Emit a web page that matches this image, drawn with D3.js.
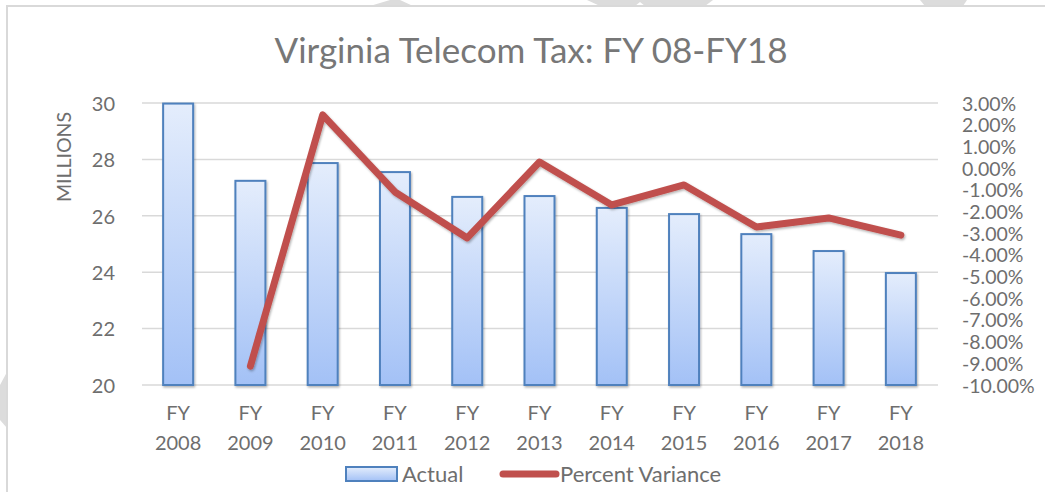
<!DOCTYPE html>
<html lang="en">
<head>
    <meta charset="UTF-8">
    <title>Virginia Telecom Tax</title>
    <script src="https://d3js.org/d3.v7.min.js"></script>
    <style>
        body { margin: 0; background: #fff; }
        text { font-family: Lato, "Open Sans", sans-serif; }
    </style>
</head>
<body>
    <svg></svg>

    <script>
        const w = 1045;
        const h = 492;

        const years = ["2008", "2009", "2010", "2011", "2012", "2013", "2014", "2015", "2016", "2017", "2018"];
        const actual = [29.98, 27.24, 27.87, 27.55, 26.67, 26.70, 26.28, 26.06, 25.35, 24.75, 23.97];
        const variance = [null, -9.13, 2.45, -1.10, -3.22, 0.28, -1.70, -0.78, -2.72, -2.30, -3.09];
        const leftTicks = [20, 22, 24, 26, 28, 30];
        const rightTicks = [3, 2, 1, 0, -1, -2, -3, -4, -5, -6, -7, -8, -9, -10];

        const svg = d3.select("svg").attr("width", w).attr("height", h);
        const defs = svg.append("defs");

        const grad = defs.append("linearGradient")
            .attr("id", "barFill")
            .attr("x1", 0).attr("y1", 0).attr("x2", 0).attr("y2", 1);
        grad.append("stop").attr("offset", "0%").attr("stop-color", "#e4edfc");
        grad.append("stop").attr("offset", "100%").attr("stop-color", "#a3c1f6");

        const shadow = defs.append("filter").attr("id", "shadow")
            .attr("x", "-20%").attr("y", "-20%").attr("width", "140%").attr("height", "140%");
        shadow.append("feDropShadow")
            .attr("dx", 1).attr("dy", 1.5).attr("stdDeviation", 1.2)
            .attr("flood-color", "#000").attr("flood-opacity", 0.3);

        // faint watermark bits and the chart frame along the edges
        const marks = svg.append("g").attr("fill", "#dcdcdc");
        [
            [[390, 0], [400, 0], [413, 6], [370, 6]],
            [[587, 0], [713, 0], [705, 6], [645, 6], [640, 2], [635, 6], [600, 6]],
            [[920, 0], [967, 0], [963, 6], [925, 6]],
            [[0, 385], [7, 372], [7, 428], [0, 420]]
        ].forEach(p => marks.append("polygon").attr("points", p.join(" ")));

        svg.append("path")
            .attr("d", `M${w},6H7V${h}`)
            .attr("fill", "none")
            .attr("stroke", "#d9d9d9")
            .attr("stroke-width", 2);

        const x = d3.scaleBand()
            .domain(years)
            .range([142, 937])
            .paddingInner(0.585)
            .paddingOuter(0.2925);

        const yL = d3.scaleLinear().domain([20, 30]).range([385, 103]);
        const yR = d3.scaleLinear().domain([-10, 3]).range([385, 103]);

        const pct = d => (d < 0 ? "-" : "") + Math.abs(d).toFixed(2) + "%";

        // gridlines
        svg.append("g")
            .selectAll("line")
            .data(leftTicks)
            .enter()
            .append("line")
                .attr("x1", 142)
                .attr("x2", 938)
                .attr("y1", d => yL(d))
                .attr("y2", d => yL(d))
                .attr("stroke", "#d9d9d9")
                .attr("stroke-width", 1.5);

        // left axis
        const left = svg.append("g")
            .attr("transform", "translate(115,0)")
            .call(d3.axisLeft(yL).tickValues(leftTicks).tickSize(0).tickPadding(0));
        left.select(".domain").remove();
        left.selectAll("text")
            .attr("font-size", 20)
            .attr("fill", "#6e6e6e")
            .attr("dy", "0.36em");

        // right axis
        const right = svg.append("g")
            .attr("transform", "translate(962,0)")
            .call(d3.axisRight(yR)
                .tickValues(rightTicks)
                .tickSize(0)
                .tickPadding(0)
                .tickFormat(pct));
        right.select(".domain").remove();
        right.selectAll("text")
            .attr("font-size", 19.5)
            .attr("fill", "#6e6e6e")
            .attr("dy", "0.36em");

        // bars
        svg.append("g")
            .selectAll("rect")
            .data(actual)
            .enter()
            .append("rect")
                .attr("x", (d, i) => x(years[i]))
                .attr("width", x.bandwidth())
                .attr("y", d => yL(d))
                .attr("height", d => yL(20) - yL(d))
                .attr("fill", "url(#barFill)")
                .attr("stroke", "#4f81bd")
                .attr("stroke-width", 2)
                .attr("filter", "url(#shadow)");

        // variance line
        const line = d3.line()
            .defined(d => d != null)
            .x((d, i) => x(years[i]) + x.bandwidth() / 2)
            .y(d => yR(d));

        svg.append("path")
            .datum(variance)
            .attr("d", line)
            .attr("fill", "none")
            .attr("stroke", "#c0504d")
            .attr("stroke-width", 7)
            .attr("stroke-linejoin", "round")
            .attr("stroke-linecap", "round")
            .attr("filter", "url(#shadow)");

        // category labels
        const cat = svg.append("g")
            .selectAll("text")
            .data(years)
            .enter()
            .append("text")
                .attr("x", d => x(d) + x.bandwidth() / 2)
                .attr("text-anchor", "middle")
                .attr("font-size", 20)
                .attr("fill", "#6e6e6e");
        cat.append("tspan").attr("x", d => x(d) + x.bandwidth() / 2).attr("y", 420).text("FY");
        cat.append("tspan").attr("x", d => x(d) + x.bandwidth() / 2).attr("y", 450).text(d => d);

        // title
        svg.append("text")
            .attr("x", 531)
            .attr("y", 63)
            .attr("text-anchor", "middle")
            .attr("font-size", 35)
            .attr("fill", "#777")
            .text("Virginia Telecom Tax: FY 08-FY18");

        svg.append("text")
            .attr("transform", "translate(71,157) rotate(-90)")
            .attr("text-anchor", "middle")
            .attr("font-size", 19.5)
            .attr("fill", "#6e6e6e")
            .text("MILLIONS");

        // legend
        const legend = svg.append("g");
        legend.append("rect")
            .attr("x", 346).attr("y", 467)
            .attr("width", 51).attr("height", 14)
            .attr("fill", "url(#barFill)")
            .attr("stroke", "#4f81bd")
            .attr("stroke-width", 2);
        legend.append("text")
            .attr("x", 402).attr("y", 482)
            .attr("font-size", 22)
            .attr("fill", "#6e6e6e")
            .text("Actual");
        legend.append("line")
            .attr("x1", 503).attr("x2", 556)
            .attr("y1", 474).attr("y2", 474)
            .attr("stroke", "#c0504d")
            .attr("stroke-width", 7)
            .attr("stroke-linecap", "round");
        legend.append("text")
            .attr("x", 560).attr("y", 482)
            .attr("font-size", 22)
            .attr("fill", "#6e6e6e")
            .text("Percent Variance");
    </script>
</body>
</html>
